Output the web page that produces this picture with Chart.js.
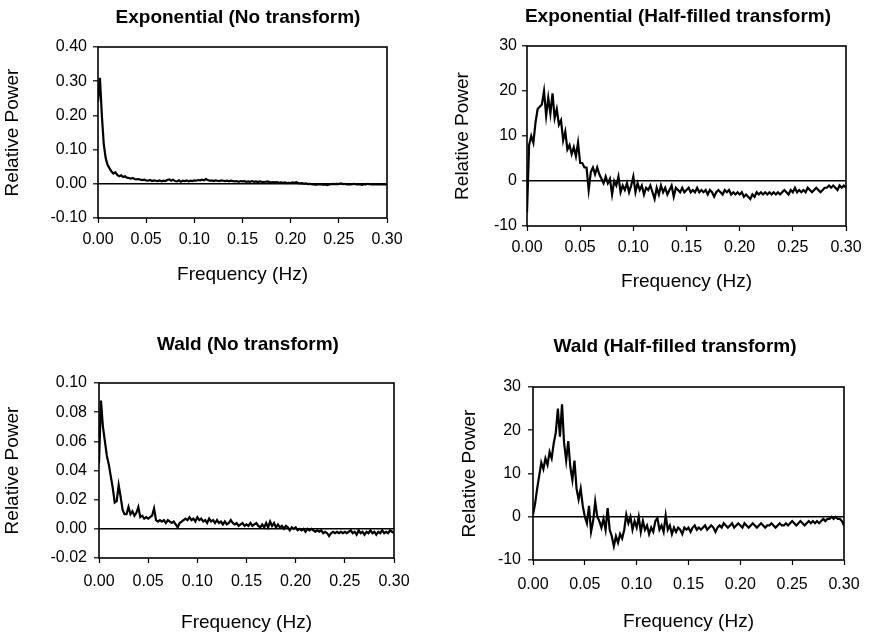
<!DOCTYPE html>
<html>
<head>
<meta charset="utf-8">
<script src="https://cdn.jsdelivr.net/npm/chart.js@4.4.1/dist/chart.umd.min.js"></script>
<style>
  html, body { margin: 0; padding: 0; background: #fff; overflow: hidden; }
  body { width: 870px; height: 635px; position: relative; }
  canvas { position: absolute; }
</style>
</head>
<body>
<canvas id="c1"></canvas>
<canvas id="c2"></canvas>
<canvas id="c3"></canvas>
<canvas id="c4"></canvas>
<script>
// spectra sampled every 0.002 Hz from 0 to 0.30 Hz
const freqStep = 0.002;
const xTicks = [0, 0.05, 0.10, 0.15, 0.20, 0.25, 0.30];

const expNoTransform = [
  0.24, 0.31, 0.20, 0.115, 0.075, 0.055, 0.045, 0.036, 0.030, 0.034,
  0.026, 0.022, 0.025, 0.020, 0.022, 0.018, 0.017, 0.015, 0.017, 0.014,
  0.013, 0.014, 0.012, 0.011, 0.012, 0.010, 0.009, 0.011, 0.008, 0.010,
  0.009, 0.008, 0.010, 0.007, 0.009, 0.008, 0.011, 0.013, 0.009, 0.012,
  0.008, 0.007, 0.010, 0.006, 0.009, 0.008, 0.010, 0.007, 0.009, 0.008,
  0.010, 0.009, 0.011, 0.010, 0.012, 0.010, 0.014, 0.011, 0.009, 0.010,
  0.008, 0.010, 0.009, 0.008, 0.010, 0.009, 0.008, 0.009, 0.007, 0.009,
  0.008, 0.007, 0.008, 0.006, 0.008, 0.007, 0.008, 0.006, 0.007, 0.006,
  0.008, 0.006, 0.007, 0.005, 0.007, 0.006, 0.005, 0.006, 0.007, 0.005,
  0.004, 0.005, 0.004, 0.005, 0.003, 0.004, 0.003, 0.004, 0.002, 0.003,
  0.002, 0.004, 0.003, 0.005, 0.002, 0.001, 0.002, 0.000, 0.001, -0.001,
  0.000, -0.002, -0.001, -0.003, -0.001, -0.002, -0.001, -0.003, -0.002, -0.004,
  -0.002, -0.001, 0.000, -0.001, 0.000, -0.001, 0.001, -0.001, 0.000, -0.002,
  -0.001, -0.002, -0.001, 0.000, -0.002, -0.001, -0.002, -0.003, -0.001, -0.002,
  0.000, -0.001, -0.002, -0.001, -0.002, -0.001, -0.002, -0.001, -0.002, -0.001,
  -0.002
];

const expHalfFilled = [
  -7, 8, 10, 8.5, 13, 16, 16.5, 17, 20, 14.5,
  18.5, 15, 19.5, 14, 16, 12.5, 13.5, 9, 11, 7,
  8, 6, 7.5, 5.5, 8.5, 4, 4, 3, 3, -2,
  2, 3, 1.5, 3, 1.5, 0.5, -0.5, 1, -0.5, 0.5,
  -3, 0, -1, 1, -2.5, -1, -2, -0.5, -2.5, -1,
  1, -2.5, -0.5, -2, -1, -3, -1.5, -2, -1, -2.5,
  -4, -1.5, -3, -1, -2.5, -1.5, -3, -2, -1, -3.5,
  -1.5, -2, -2.5, -1.5, -2.5, -2, -1.5, -2.5, -2, -2.5,
  -1.5, -2.5, -2, -2.5, -2, -3, -2, -2.5, -3.5, -2.5,
  -2, -2.5, -3, -2, -2.5, -2, -3, -2.5, -3, -2.5,
  -3, -2.5, -3.5, -3, -3.5, -4, -3, -3.5, -2.5, -3,
  -2.5, -3, -2.5, -3, -2.5, -3, -2.5, -3, -2.5, -3,
  -2.5, -2, -2.5, -3, -2, -2.5, -1.5, -2.5, -2, -2.5,
  -2, -2.5, -1.5, -2, -2.5, -2, -1.5, -2, -2.5, -2,
  -1.5, -1.5, -1, -1.5, -1, -1.5, -2, -1, -1.5, -1,
  -1.5
];

const waldNoTransform = [
  0.045, 0.088, 0.070, 0.060, 0.050, 0.044, 0.036, 0.028, 0.018, 0.019,
  0.030, 0.022, 0.013, 0.010, 0.010, 0.015, 0.010, 0.012, 0.009, 0.011,
  0.015, 0.008, 0.009, 0.007, 0.008, 0.007, 0.008, 0.009, 0.014, 0.006,
  0.005, 0.006, 0.005, 0.006, 0.004, 0.006, 0.005, 0.004, 0.005, 0.003,
  0.001, 0.004, 0.005, 0.006, 0.007, 0.006, 0.008, 0.006, 0.007, 0.005,
  0.008, 0.006, 0.007, 0.005, 0.006, 0.004, 0.007, 0.005, 0.006, 0.004,
  0.006, 0.004, 0.005, 0.003, 0.005, 0.003, 0.004, 0.006, 0.004, 0.003,
  0.004, 0.002, 0.003, 0.004, 0.002, 0.003, 0.002, 0.004, 0.002, 0.003,
  0.004, 0.002, 0.001, 0.003, 0.001, 0.004, 0.001, 0.005, 0.002, 0.004,
  0.001, 0.003, 0.001, 0.002, 0.000, 0.002, 0.001, -0.001, 0.001, 0.000,
  0.001, -0.001, 0.000, -0.001, 0.000, -0.002, 0.000, -0.001, 0.000, -0.001,
  -0.002, -0.001, -0.002, -0.001, -0.003, -0.002, -0.003, -0.005, -0.003, -0.002,
  -0.003, -0.002, -0.003, -0.002, -0.003, -0.002, -0.003, -0.002, -0.001, -0.003,
  -0.002, -0.004, -0.001, -0.003, -0.002, -0.004, -0.002, -0.003, -0.001, -0.003,
  -0.002, -0.004, -0.002, -0.003, -0.001, -0.003, -0.002, -0.003, -0.001, -0.002,
  -0.003
];

const waldHalfFilled = [
  0.5, 3, 6.5, 9.5, 12.5, 11, 13.5, 12, 15, 13.5,
  17, 19.5, 25, 18.5, 26, 17, 13, 17.5, 11.5, 8.5,
  13, 6.5, 4, 6.5, 2.5, 0, -1.5, 2.5, -3.5, -1,
  3.5, 0, -1, -2.5, -0.5, -3, 2, -3, -4.5, -6.8,
  -4.5, -6, -4, -5, -3, 0.5, -1.5, 0, -3, -1,
  -2.5, 0, -3.5, -1, -3, -2, -4, -2.5, -3.5, -1,
  -0.3, -3, -2, -3.5, 0.3, -3, -2, -4, -2.5, -3.5,
  -2.5, -3, -4, -2.5, -3, -2.5, -3.5, -2.5, -2, -3,
  -2.5, -3, -2.5, -2, -3, -2.5, -2, -2.5, -3.5, -2.5,
  -2, -2.5, -1.5, -2, -2.5, -2, -1.5, -2.5, -2, -1.5,
  -2, -2.5, -1.5, -2, -2.5, -2, -1.5, -2, -2.5, -2,
  -1.5, -2, -2.5, -2, -2, -1.5, -2, -2.5, -2, -1.5,
  -2, -2, -1.5, -2, -1.5, -1, -1.5, -2, -1.5, -1,
  -1.5, -2, -1.5, -1, -1.5, -1, -1.5, -1, -1.5, -1,
  -0.5, -1, -0.5, -0.5, 0, -0.5, 0, -0.5, -0.5, -1,
  -2
];

Chart.defaults.font.family = '"Liberation Sans", Arial, Helvetica, sans-serif';
Chart.defaults.color = '#000';
Chart.defaults.animation = false;

// box round the plotting area
const framePlugin = {
  id: 'frame',
  afterDraw(chart) {
    const a = chart.chartArea;
    const ctx = chart.ctx;
    ctx.save();
    ctx.strokeStyle = '#000';
    ctx.lineWidth = 1.6;
    ctx.strokeRect(a.left, a.top, a.right - a.left, a.bottom - a.top);
    ctx.restore();
  }
};

const TITLE_SIZE = 19, AXIS_SIZE = 19, TICK_SIZE = 16, TICK_LEN = 5;

function makePanel(id, values, title, yRange, digits, g) {
  const canvas = document.getElementById(id);
  canvas.width = g.w;
  canvas.height = g.h;
  canvas.style.left = g.cx + 'px';
  canvas.style.top = g.cy + 'px';

  const titleLh = TITLE_SIZE * 1.2, axisLh = AXIS_SIZE * 1.2, tickLh = TICK_SIZE * 1.2;
  const titleTop = g.titleY - g.cy - titleLh / 2;
  const titleBottom = g.top - g.cy - titleLh - titleTop;

  const points = values.map((v, i) => ({ x: i * freqStep, y: v }));

  return new Chart(canvas, {
    type: 'line',
    data: {
      datasets: [{
        data: points,
        borderColor: '#000',
        borderWidth: 2.2,
        pointRadius: 0,
        tension: 0
      }]
    },
    options: {
      responsive: false,
      layout: { padding: 0 },
      plugins: {
        legend: { display: false },
        tooltip: { enabled: false },
        title: {
          display: true,
          text: title,
          font: { size: TITLE_SIZE, weight: 'bold' },
          padding: { top: titleTop, bottom: titleBottom }
        }
      },
      scales: {
        x: {
          type: 'linear',
          min: 0,
          max: 0.3,
          afterBuildTicks: s => { s.ticks = xTicks.map(v => ({ value: v })); },
          afterFit: s => { s.height = g.cy + g.h - g.bottom; },
          border: { display: false },
          grid: { drawOnChartArea: false, tickColor: '#000', tickLength: TICK_LEN, tickWidth: 1.2 },
          ticks: {
            font: { size: TICK_SIZE },
            padding: g.xTickY - g.bottom - TICK_LEN - tickLh / 2,
            maxRotation: 0,
            autoSkip: false,
            callback: v => v.toFixed(2)
          },
          title: {
            display: true,
            text: 'Frequency (Hz)',
            font: { size: AXIS_SIZE },
            padding: { top: 0, bottom: g.cy + g.h - g.xTitleY - axisLh / 2 }
          }
        },
        y: {
          min: yRange[0],
          max: yRange[1],
          afterFit: s => { s.width = g.left - g.cx; },
          border: { display: false },
          grid: {
            color: c => (c.tick && Math.abs(c.tick.value) < 1e-9) ? '#000' : 'rgba(0,0,0,0)',
            lineWidth: 1.6,
            tickColor: '#000',
            tickLength: TICK_LEN,
            tickWidth: 1.2
          },
          ticks: {
            stepSize: yRange[2],
            font: { size: TICK_SIZE },
            padding: g.yTickGap - TICK_LEN,
            callback: v => v.toFixed(digits)
          },
          title: {
            display: true,
            text: 'Relative Power',
            font: { size: AXIS_SIZE },
            padding: { top: g.yTitleX - g.cx - axisLh / 2, bottom: 0 }
          }
        },
        yRight: {
          position: 'right',
          display: true,
          grid: { display: false },
          border: { display: false },
          ticks: { display: false },
          afterFit: s => { s.width = g.cx + g.w - g.right; }
        }
      }
    },
    plugins: [framePlugin]
  });
}

makePanel('c1', expNoTransform, 'Exponential (No transform)', [-0.1, 0.4, 0.1], 2,
  { cx: 0, cy: 0, w: 476, h: 300, left: 98, top: 47, right: 387, bottom: 218,
    titleY: 18, yTitleX: 13, xTitleY: 275, xTickY: 240, yTickGap: 11 });

makePanel('c2', expHalfFilled, 'Exponential (Half-filled transform)', [-10, 30, 10], 0,
  { cx: 440, cy: 0, w: 476, h: 300, left: 527, top: 46, right: 846, bottom: 226,
    titleY: 17, yTitleX: 463, xTitleY: 282, xTickY: 248, yTickGap: 10 });

makePanel('c3', waldNoTransform, 'Wald (No transform)', [-0.02, 0.10, 0.02], 2,
  { cx: 0, cy: 310, w: 496, h: 325, left: 99, top: 383, right: 394, bottom: 558,
    titleY: 345, yTitleX: 13, xTitleY: 623, xTickY: 582, yTickGap: 12 });

makePanel('c4', waldHalfFilled, 'Wald (Half-filled transform)', [-10, 30, 10], 0,
  { cx: 440, cy: 310, w: 470, h: 325, left: 533, top: 387, right: 844, bottom: 560,
    titleY: 347, yTitleX: 470, xTitleY: 622, xTickY: 585, yTickGap: 12 });
</script>
</body>
</html>
